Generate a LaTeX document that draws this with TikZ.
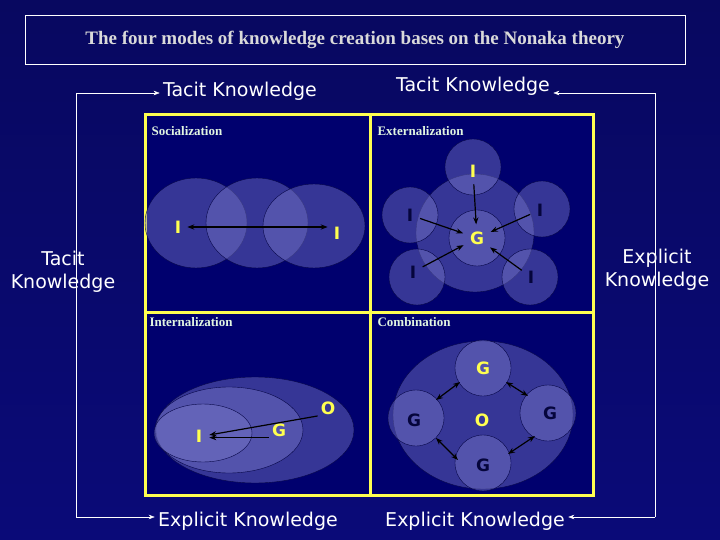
\documentclass[tikz,border=0pt]{standalone}
\usepackage{fontspec}
\setsansfont{DejaVu Sans}
\setmainfont{Liberation Serif}
\usetikzlibrary{arrows.meta}
\definecolor{navy}{RGB}{10,10,120}
\definecolor{deepnavy}{RGB}{0,0,110}
\definecolor{blob}{RGB}{120,120,200}
\definecolor{pale}{RGB}{225,245,225}
\definecolor{lyellow}{RGB}{255,255,80}
\tikzset{
  quad/.style={draw=lyellow, line width=3pt, fill=deepnavy},
  blob/.style={draw=navy!60!black, fill=blob, fill opacity=0.45},
  lbl/.style={text=lyellow, font=\sffamily\bfseries\fontsize{17}{19}\selectfont, inner sep=1pt},
  dlbl/.style={text=navy!50!black, font=\sffamily\bfseries\fontsize{17}{19}\selectfont, inner sep=1pt},
  side/.style={text=white, font=\sffamily\fontsize{19}{23}\selectfont, align=center},
  mode/.style={text=pale, font=\rmfamily\bfseries\fontsize{13}{15}\selectfont, anchor=west},
  link/.style={-{Stealth[length=7pt]}, line width=1.2pt, black, shorten <=6pt, shorten >=6pt},
  dlink/.style={{Stealth[length=7pt]}-{Stealth[length=7pt]}, line width=1.2pt, black},
  bracket/.style={white, -{Stealth[length=6pt]}}
}
\begin{document}
\begin{tikzpicture}[x=1pt,y=-1pt]
\shade[top color=navy!80!black, bottom color=navy] (0,0) rectangle (720,540);
\useasboundingbox (0,0) rectangle (720,540);
% title
\node[draw=white, minimum width=660pt, minimum height=49pt, text=white!85!black,
  font=\rmfamily\bfseries\fontsize{19}{21}\selectfont] (title) at (355,40) {The four modes of knowledge creation bases on the Nonaka theory};
% quadrants
\draw[quad] (145,115) rectangle (370,312);
\draw[quad] (370,115) rectangle (593,312);
\draw[quad] (145,312) rectangle (370,495);
\draw[quad] (370,312) rectangle (593,495);
\node[mode] (soc) at (148,131) {Socialization};
\node[mode] (ext) at (374,131) {Externalization};
\node[mode] (int) at (146,322) {Internalization};
\node[mode] (com) at (374,322) {Combination};
% axis labels
\node[side] (tl) at (240,91) {Tacit Knowledge};
\node[side] (tr) at (473,86) {Tacit Knowledge};
\node[side] (lt) at (63,272) {Tacit\\Knowledge};
\node[side] (re) at (657,270) {Explicit\\Knowledge};
\node[side] (bl) at (248,521) {Explicit Knowledge};
\node[side] (br) at (475,521) {Explicit Knowledge};
\coordinate (c1) at (76,93);
\coordinate (c2) at (76,517);
\coordinate (c3) at (655,93);
\coordinate (c4) at (655,517);
\draw[white] (c1) -- (c2);
\draw[white] (c3) -- (c4);
\draw[bracket] (c1) -- (c1 -| tl.west);
\draw[bracket] (c2) -- (c2 -| bl.west);
\draw[bracket] (c3) -- (c3 -| tr.east);
\draw[bracket] (c4) -- (c4 -| br.east);
% socialization
\draw[blob] (196,223) ellipse (51 and 45);
\draw[blob] (257,223) ellipse (51 and 45);
\draw[blob] (314,226) ellipse (51 and 42);
\node[lbl] (s1) at (178,227) {I};
\node[lbl] (s2) at (337,233) {I};
\draw[dlink] ([xshift=5pt]s1.east) -- ([xshift=-5pt]s1.east -| s2.west);
% externalization
\draw[blob] (475,233) circle (59);
\foreach \p in {(473,167),(410,215),(542,209),(417,277),(530,277)}
  \draw[blob] \p circle (28);
\draw[blob] (477,238) circle (28);
\node[lbl] (eg) at (477,238) {G};
\node[lbl] (e1) at (473,171) {I};
\node[dlbl] (e2) at (410,215) {I};
\node[dlbl] (e3) at (540,210) {I};
\node[dlbl] (e4) at (413,272) {I};
\node[dlbl] (e5) at (531,277) {I};
\foreach \n in {e1,e2,e3,e4,e5}
  \draw[link] (\n) -- (eg);
% internalization
\draw[blob] (255,430) ellipse (99 and 53);
\draw[blob] (229,430) ellipse (74 and 43);
\draw[blob] (203,433) ellipse (49 and 29);
\node[lbl] (ii) at (199,436) {I};
\node[lbl] (ig) at (279,430) {G};
\node[lbl] (io) at (328,408) {O};
\draw[link, shorten <=2pt] (io.south west) -- (ii.east);
\draw[link, shorten <=2pt] (ig.south west) -- (ig.south west -| ii.east);
% combination
\draw[blob] (483,415) ellipse (90 and 74);
\foreach \p in {(483,368),(416,418),(548,413),(483,463)}
  \draw[blob] \p circle (28);
\node[lbl] (cg1) at (483,368) {G};
\node[dlbl] (cg2) at (414,420) {G};
\node[dlbl] (cg3) at (550,413) {G};
\node[dlbl] (cg4) at (483,465) {G};
\node[lbl] (co) at (482,420) {O};
\draw[dlink] (460,382) -- (436,400);
\draw[dlink] (506,382) -- (528,396);
\draw[dlink] (436,438) -- (458,460);
\draw[dlink] (508,454) -- (535,436);
\end{tikzpicture}
\end{document}
